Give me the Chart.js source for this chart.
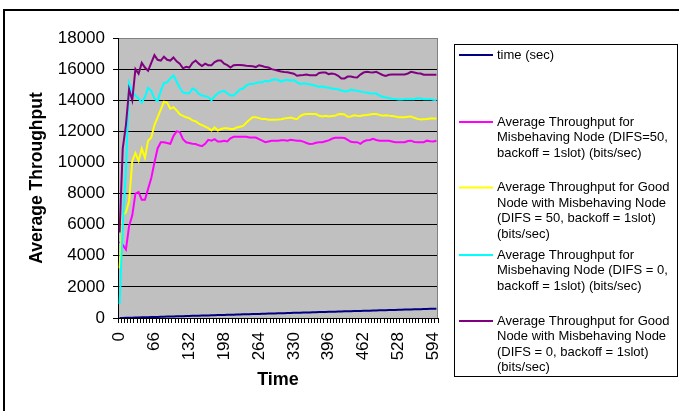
<!DOCTYPE html>
<html>
<head>
<meta charset="utf-8">
<script src="https://cdn.jsdelivr.net/npm/chart.js@4"></script>
<style>
  body { margin: 0; background: #fff; overflow: hidden; }
  #container { position: relative; width: 679px; height: 411px; }
</style>
</head>
<body>
<div id="container">
    <canvas id="LineChart" width="679" height="411"></canvas>
</div>

<script>
    // category axis: time in seconds (also plotted as its own series, like the original sheet)
    var times = [0, 6, 12, 18, 24, 30, 36, 42, 48, 54, 60, 66, 72, 78, 84, 90, 96, 102, 108, 114,
        120, 126, 132, 138, 144, 150, 156, 162, 168, 174, 180, 186, 192, 198, 204, 210, 216, 222, 228, 234,
        240, 246, 252, 258, 264, 270, 276, 282, 288, 294, 300, 306, 312, 318, 324, 330, 336, 342, 348, 354,
        360, 366, 372, 378, 384, 390, 396, 402, 408, 414, 420, 426, 432, 438, 444, 450, 456, 462, 468, 474,
        480, 486, 492, 498, 504, 510, 516, 522, 528, 534, 540, 546, 552, 558, 564, 570, 576, 582, 588, 594, 600];

    var misbehaving50 = [4900, 4700, 4400, 5900, 6600, 8000, 8100, 7600, 7600, 8300,
        9000, 10000, 10900, 11300, 11300, 11250, 11200, 11700, 12000, 11950,
        11500, 11300, 11250, 11200, 11180, 11100, 11050, 11200, 11450, 11400,
        11500, 11350, 11350, 11400, 11350, 11550, 11650, 11650, 11650, 11650,
        11650, 11600, 11600, 11600, 11500, 11400, 11300, 11350, 11400, 11400,
        11400, 11430, 11420, 11400, 11460, 11420, 11400, 11400, 11340, 11250,
        11190, 11200, 11270, 11300, 11300, 11360, 11420, 11520, 11580, 11590,
        11590, 11570, 11450, 11330, 11300, 11300, 11200, 11350, 11420, 11440,
        11520, 11440, 11400, 11400, 11400, 11400, 11350, 11300, 11300, 11300,
        11300, 11380, 11400, 11320, 11300, 11300, 11300, 11400, 11360, 11350, 11400];

    var good50 = [3200, 6600, 6800, 7500, 10100, 10600, 10100, 10900, 10300, 11400,
        11600, 12400, 12900, 13400, 13900, 13850, 13450, 13550, 13350, 13100,
        13000, 12900, 12850, 12700, 12650, 12500, 12400, 12300, 12200, 12050,
        12250, 12050, 12150, 12200, 12200, 12150, 12150, 12250, 12300, 12350,
        12550, 12750, 12900, 12900, 12850, 12800, 12800, 12750, 12750, 12750,
        12760, 12780, 12820, 12850, 12890, 12830, 12780, 12980, 13080, 13110,
        13110, 13110, 13110, 13000, 12960, 13000, 12950, 12980, 13000, 13100,
        13110, 13080, 12940, 12960, 13030, 13000, 12980, 13030, 13050, 13080,
        13110, 13110, 13060, 13000, 13040, 13010, 12990, 12960, 12900, 12900,
        12900, 12940, 12960, 12870, 12800, 12760, 12780, 12800, 12830, 12830, 12830];

    var misbehaving0 = [900, 6000, 9500, 15100, 14500, 14300, 14100, 13850, 14200, 14800,
        14600, 14100, 13950, 14600, 15100, 15150, 15400, 15600, 15200, 14800,
        14500, 14450, 14450, 14750, 14650, 14400, 14300, 14250, 14200, 14000,
        14250, 14450, 14550, 14600, 14450, 14300, 14300, 14500, 14700, 14750,
        14950, 15050, 15050, 15100, 15150, 15150, 15250, 15200, 15300, 15350,
        15300, 15200, 15280, 15320, 15250, 15300, 15150, 15050, 15080, 15060,
        15030, 14980, 14920, 14870, 14880, 14830, 14800, 14760, 14720, 14700,
        14620, 14580, 14580, 14680, 14640, 14600, 14560, 14520, 14490, 14440,
        14440, 14430, 14300, 14220, 14170, 14140, 14100, 14070, 14040, 14050,
        14070, 14070, 14070, 14070, 14130, 14110, 14070, 14070, 14070, 14030, 14010];

    var good0 = [5500, 10900, 12400, 14700, 14000, 16000, 15700, 16400, 16100, 15900,
        16400, 16900, 16600, 16550, 16800, 16600, 16550, 16750, 16500, 16350,
        16050, 16150, 16100, 16400, 16550, 16350, 16200, 16350, 16250, 16250,
        16450, 16550, 16550, 16350, 16250, 16100, 16250, 16270, 16270, 16250,
        16220, 16200, 16180, 16130, 16250, 16200, 16130, 16100, 16000, 15950,
        15900, 15850, 15820, 15800, 15750, 15700, 15570, 15600, 15620, 15650,
        15600, 15600, 15600, 15750, 15780, 15780, 15680, 15720, 15680, 15570,
        15400, 15400, 15520, 15520, 15480, 15460, 15650, 15780, 15830, 15800,
        15780, 15830, 15720, 15620, 15560, 15640, 15650, 15650, 15650, 15650,
        15650, 15720, 15830, 15780, 15730, 15720, 15640, 15640, 15640, 15640, 15640];

    var seriesLabels = [
        'time (sec)',
        'Average Throughput for Misbehaving Node (DIFS=50, backoff = 1slot) (bits/sec)',
        'Average Throughput for Good Node with Misbehaving Node (DIFS = 50, backoff = 1slot) (bits/sec)',
        'Average Throughput for Misbehaving Node (DIFS = 0, backoff = 1slot) (bits/sec)',
        'Average Throughput for Good Node with Misbehaving Node (DIFS = 0, backoff = 1slot) (bits/sec)'
    ];
    // legend text wrapped the way the original legend box wraps it
    var legendLines = [
        ['time (sec)'],
        ['Average Throughput for', 'Misbehaving Node (DIFS=50,', 'backoff = 1slot) (bits/sec)'],
        ['Average Throughput for Good', 'Node with Misbehaving Node', '(DIFS = 50, backoff = 1slot)', '(bits/sec)'],
        ['Average Throughput for', 'Misbehaving Node (DIFS = 0,', 'backoff = 1slot) (bits/sec)'],
        ['Average Throughput for Good', 'Node with Misbehaving Node', '(DIFS = 0, backoff = 1slot)', '(bits/sec)']
    ];
    var seriesColors = ['#000080', '#FF00FF', '#FFFF00', '#00FFFF', '#800080'];
    var yMin = 0, yMax = 18000, yStep = 2000;
    var labelEvery = 11;

    var FONT = '"Liberation Sans", Arial, sans-serif';
    Chart.defaults.font.family = FONT;
    Chart.defaults.color = '#000';

    var legendY = [55, 122, 187.5, 255, 321];

    var excelLook = {
        id: 'excelLook',
        beforeDraw: function(chart) {
            var ctx = chart.ctx, a = chart.chartArea;
            ctx.save();
            ctx.fillStyle = '#C0C0C0';
            ctx.fillRect(a.left, a.top, a.right - a.left, a.bottom - a.top);
            ctx.restore();
        },
        afterDraw: function(chart) {
            var ctx = chart.ctx, a = chart.chartArea;
            ctx.save();
            // right edge of the plot area
            ctx.strokeStyle = '#808080';
            ctx.lineWidth = 1;
            ctx.beginPath();
            ctx.moveTo(a.right - 0.5, a.top);
            ctx.lineTo(a.right - 0.5, a.bottom);
            ctx.stroke();
            // outer chart frame
            ctx.strokeStyle = '#000';
            ctx.lineWidth = 2;
            ctx.strokeRect(4, 10, 700, 420);
            // legend box
            ctx.lineWidth = 1;
            ctx.strokeRect(454.5, 44.5, 223, 332);
            ctx.font = '13px ' + FONT;
            ctx.textBaseline = 'middle';
            ctx.fillStyle = '#000';
            chart.data.datasets.forEach(function(ds, i) {
                var y = legendY[i];
                ctx.strokeStyle = ds.borderColor;
                ctx.lineWidth = 2;
                ctx.beginPath();
                ctx.moveTo(459, y);
                ctx.lineTo(493, y);
                ctx.stroke();
                legendLines[i].forEach(function(line, j) {
                    ctx.fillText(line, 497, y + j * 15.5);
                });
            });
            ctx.restore();
        }
    };

    var allSeries = [times, misbehaving50, good50, misbehaving0, good0];
    var datasets = allSeries.map(function(values, i) {
        return {
            label: seriesLabels[i],
            data: values,
            borderColor: seriesColors[i],
            backgroundColor: seriesColors[i],
            borderWidth: 2,
            pointRadius: 0,
            tension: 0,
            fill: false,
            order: allSeries.length - i
        };
    });

    var ctxL = document.getElementById("LineChart").getContext('2d');
    var myLineChart = new Chart(ctxL, {
        type: 'line',
        data: {
            labels: times,
            datasets: datasets
        },
        options: {
            responsive: false,
            animation: false,
            devicePixelRatio: 1,
            layout: { padding: { left: 0, top: 38, right: 241, bottom: 0 } },
            plugins: {
                legend: { display: false },
                tooltip: { enabled: false }
            },
            scales: {
                x: {
                    offset: true,
                    grid: { drawOnChartArea: false, drawTicks: true, tickLength: 5, color: '#000', offset: true },
                    border: { color: '#000', width: 1 },
                    ticks: {
                        autoSkip: false,
                        minRotation: 90,
                        maxRotation: 90,
                        padding: 9,
                        font: { size: 17 },
                        callback: function(val, idx) {
                            return idx % labelEvery === 0 ? String(this.getLabelForValue(val)) : '';
                        }
                    },
                    title: {
                        display: true,
                        text: 'Time',
                        font: { size: 18, weight: 'bold' },
                        padding: { top: 0, bottom: 20 }
                    },
                    afterFit: function(scale) { scale.height = 93; }
                },
                y: {
                    min: yMin,
                    max: yMax,
                    ticks: {
                        stepSize: yStep,
                        padding: 8,
                        font: { size: 17 },
                        callback: function(value) { return String(value); }
                    },
                    grid: {
                        tickLength: 5,
                        color: function(c) { return c.tick && c.tick.value === yMax ? '#808080' : '#000'; },
                        tickColor: '#000'
                    },
                    border: { color: '#000', width: 1 },
                    title: {
                        display: true,
                        text: 'Average Throughput',
                        font: { size: 17.5, weight: 'bold' },
                        padding: { top: 27, bottom: 0 }
                    },
                    afterFit: function(scale) { scale.width = 118; }
                }
            }
        },
        plugins: [excelLook]
    });
</script>
</body>
</html>
